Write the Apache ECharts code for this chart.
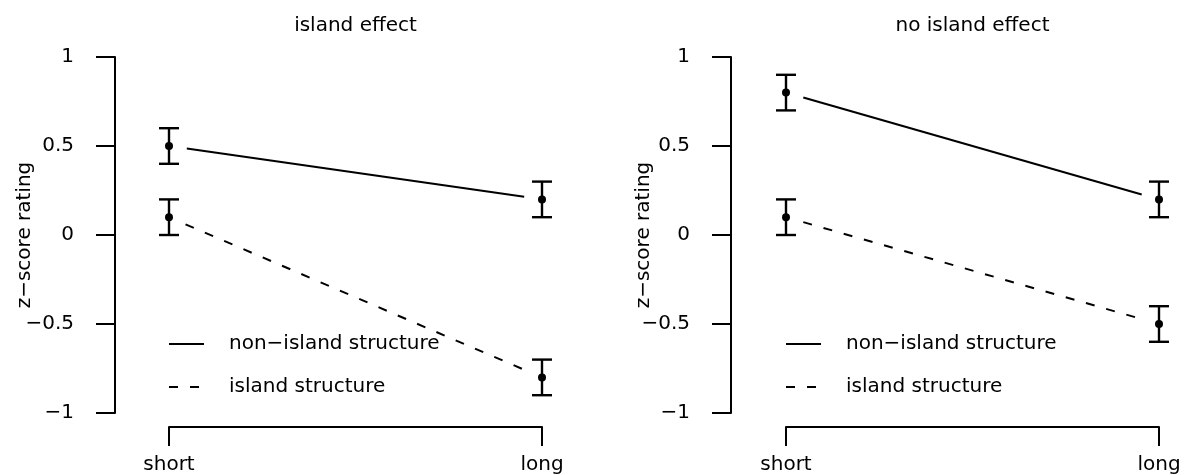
<!DOCTYPE html>
<html><head><meta charset="utf-8">
<script src="https://cdn.jsdelivr.net/npm/echarts@6/dist/echarts.min.js"></script>
<style>html,body{margin:0;padding:0;background:#fff}#c{width:1186px;height:475px}</style>
</head><body><div id="c"></div>
<script>
// ---- data ----
const conditions = ['short', 'long'];
const panelTitles = ['island effect', 'no island effect'];
const groupNames = ['non\u2212island structure', 'island structure'];
const yAxisTitle = 'z\u2212score rating';
const yTicks = [-1, -0.5, 0, 0.5, 1];
const islandEffectNonIsland = [0.5, 0.2];
const islandEffectNonIslandErr = [0.1, 0.1];
const islandEffectIsland = [0.1, -0.8];
const islandEffectIslandErr = [0.1, 0.1];
const noIslandEffectNonIsland = [0.8, 0.2];
const noIslandEffectNonIslandErr = [0.1, 0.1];
const noIslandEffectIsland = [0.1, -0.5];
const noIslandEffectIslandErr = [0.1, 0.1];

// ---- layout / style ----
const FONT = 'DejaVu Sans';
const FS = 20;
const GAP = 18;       // type="b" gap around points
const CAP = 10;       // error bar half cap width
const panels = [
  { left: 169, width: 373, yOffset: 54, nameGap: 80,
    groups: [[islandEffectNonIsland, islandEffectNonIslandErr], [islandEffectIsland, islandEffectIslandErr]] },
  { left: 786, width: 373, yOffset: 55, nameGap: 77,
    groups: [[noIslandEffectNonIsland, noIslandEffectNonIslandErr], [noIslandEffectIsland, noIslandEffectIslandErr]] }
];
const dashes = [null, [9, 12]];
const txt = { color: '#000', fontFamily: FONT, fontSize: FS };

function segmentSeries(name, values, idx, dash) {
  return {
    type: 'custom', name: name, xAxisIndex: idx, yAxisIndex: idx, silent: true,
    data: [[0, values[0], 1, values[1]]],
    encode: { x: [0, 2], y: [1, 3] },
    renderItem: function (params, api) {
      const p1 = api.coord([api.value(0), api.value(1)]);
      const p2 = api.coord([api.value(2), api.value(3)]);
      const dx = p2[0] - p1[0], dy = p2[1] - p1[1];
      const len = Math.hypot(dx, dy);
      const ux = dx / len, uy = dy / len;
      return {
        type: 'line',
        shape: { x1: p1[0] + ux * GAP, y1: p1[1] + uy * GAP, x2: p2[0] - ux * GAP, y2: p2[1] - uy * GAP },
        style: { stroke: '#000', lineWidth: 2, lineDash: dash || null, fill: null }
      };
    }
  };
}

function errorSeries(name, values, errs, idx) {
  return {
    type: 'custom', name: name, xAxisIndex: idx, yAxisIndex: idx, silent: true,
    data: values.map((v, i) => [i, v, v - errs[i], v + errs[i]]),
    encode: { x: 0, y: [1, 2, 3] },
    renderItem: function (params, api) {
      const x = api.value(0);
      const pm = api.coord([x, api.value(1)]);
      const plo = api.coord([x, api.value(2)]);
      const phi = api.coord([x, api.value(3)]);
      const st = { stroke: '#000', lineWidth: 2.4, fill: null };
      return {
        type: 'group', children: [
          { type: 'line', shape: { x1: pm[0], y1: plo[1], x2: pm[0], y2: phi[1] }, style: st },
          { type: 'line', shape: { x1: pm[0] - CAP, y1: plo[1], x2: pm[0] + CAP, y2: plo[1] }, style: st },
          { type: 'line', shape: { x1: pm[0] - CAP, y1: phi[1], x2: pm[0] + CAP, y2: phi[1] }, style: st },
          { type: 'circle', shape: { cx: pm[0], cy: pm[1], r: 4 }, style: { fill: '#000', stroke: null } }
        ]
      };
    }
  };
}

const grid = [], xAxis = [], yAxis = [], title = [], legend = [], series = [];

// dummy line series used only for legend icons
groupNames.forEach((n, g) => {
  series.push({ type: 'line', name: n, data: [], symbol: 'none', xAxisIndex: 0, yAxisIndex: 0,
    lineStyle: { color: '#000', width: 2, type: dashes[g] || 'solid' },
    itemStyle: { color: 'rgba(0,0,0,0)', borderWidth: 0, opacity: 0 } });
});

panels.forEach((p, i) => {
  grid.push({ left: p.left, width: p.width, top: 57, height: 356, containLabel: false });
  xAxis.push({
    type: 'category', gridIndex: i, data: conditions, boundaryGap: false, offset: 14,
    axisLine: { show: true, onZero: false, lineStyle: { color: '#000', width: 2 } },
    axisTick: { show: true, length: 19, lineStyle: { color: '#000', width: 2 } },
    axisLabel: Object.assign({ margin: 28, interval: 0 }, txt),
    splitLine: { show: false }
  });
  yAxis.push({
    type: 'value', gridIndex: i, min: yTicks[0], max: yTicks[yTicks.length - 1], interval: 0.5,
    offset: p.yOffset,
    name: yAxisTitle, nameLocation: 'middle', nameRotate: 90, nameGap: p.nameGap,
    nameMoveOverlap: false,
    nameTextStyle: txt,
    axisLine: { show: true, onZero: false, lineStyle: { color: '#000', width: 2 } },
    axisTick: { show: true, length: 19, lineStyle: { color: '#000', width: 2 } },
    axisLabel: Object.assign({ margin: 41, formatter: v => String(v).replace('-', '\u2212') }, txt),
    splitLine: { show: false }
  });
  title.push({
    text: panelTitles[i], left: p.left + p.width / 2, top: 16, textAlign: 'center', padding: 0,
    textStyle: Object.assign({ fontWeight: 'normal' }, txt)
  });
  legend.push({
    data: groupNames, orient: 'vertical', left: p.left - 1, top: 334, padding: 0,
    itemWidth: 35, itemHeight: 20, itemGap: 23, selectedMode: false,
    itemStyle: { opacity: 0 },
    lineStyle: { color: '#000', width: 2, opacity: 1 },
    textStyle: Object.assign({ padding: [0, 0, 0, 20] }, txt)
  });
  p.groups.forEach((gr, g) => {
    series.push(segmentSeries('seg' + i + g, gr[0], i, dashes[g]));
    series.push(errorSeries('err' + i + g, gr[0], gr[1], i));
  });
});

const chart = echarts.init(document.getElementById('c'), null, { renderer: 'canvas' });
chart.setOption({ animation: false, backgroundColor: '#fff', grid, xAxis, yAxis, title, legend, series });
</script>
</body></html>
